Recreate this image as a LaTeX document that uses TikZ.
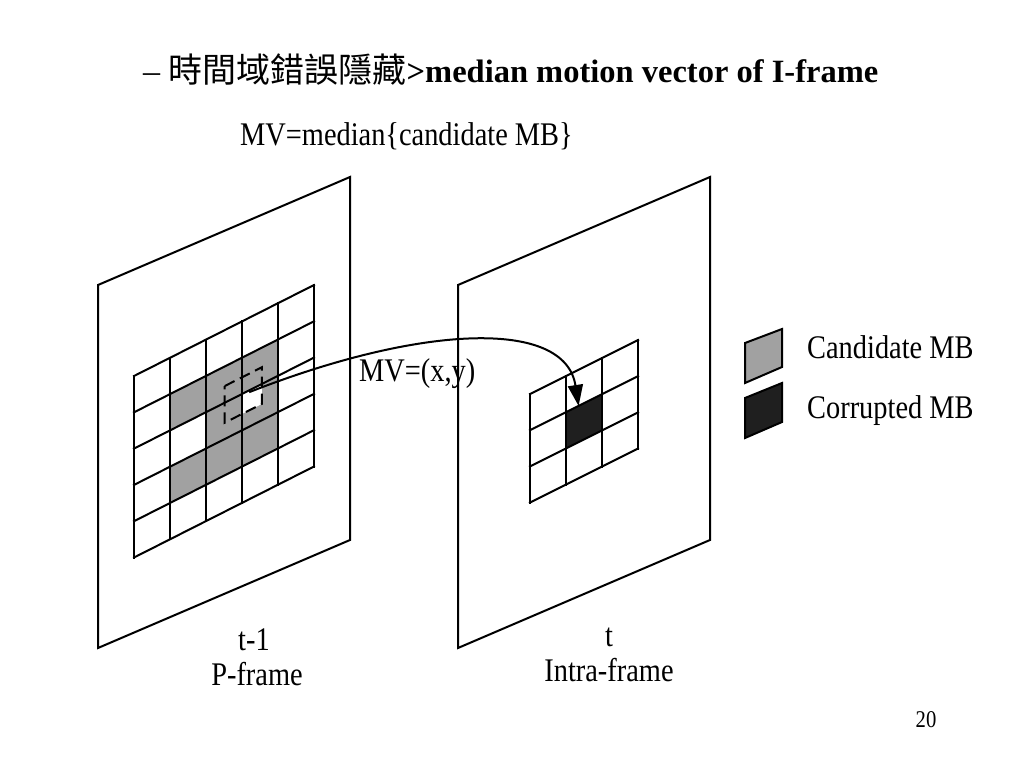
\documentclass[tikz,border=0pt]{standalone}
\usepackage{fontspec}
\setmainfont{Liberation Serif}
\newfontfamily\narrowserif[FakeStretch=0.86]{Liberation Serif}
\newfontfamily\cjkfont{Noto Sans CJK TC}
\usetikzlibrary{positioning,arrows.meta,calc}

\begin{document}
\begin{tikzpicture}[
    x=1pt, y=-1pt,
    % Frames, macroblocks and labels
    frame_plane/.style={draw=black, line width=2pt, fill=white},
    grid_line/.style={draw=black, line width=2pt, line cap=rect},
    candidate_mb/.style={fill=black!37},
    corrupted_mb/.style={fill=black!88},
    search_box/.style={draw=black, line width=2pt, dash pattern=on 11pt off 6pt},
    mv_arrow/.style={-{Triangle[length=21pt,width=15pt]}, line width=2pt},
    legend_box/.style={draw=black, line width=2pt},
    label_text/.style={font=\narrowserif\fontsize{33}{36}\selectfont, inner sep=0pt},
    title_text/.style={font=\fontsize{34}{40}\selectfont, inner sep=0pt}
]

% Page area
\fill[white] (0,0) rectangle (1024,768);
\useasboundingbox (0,0) rectangle (1024,768);

% Title and formula
\node[title_text, anchor=base west] (title) at (143,82)
    {–\ {\cjkfont 時間域錯誤隱藏}{\fontsize{32.5}{40}\selectfont\bfseries >median motion vector of I-frame}};
\node[label_text, anchor=base west] (formula) at (240,145) {MV=median\{candidate MB\}};

% Two frames in perspective
\draw[frame_plane] (98,285) -- (350,177) -- (350,540) -- (98,648) -- cycle;
\draw[frame_plane] (458,285) -- (710,177) -- (710,540) -- (458,648) -- cycle;

% Frame t-1: 5x5 macroblocks with candidates
\begin{scope}[shift={(134,376)}, x={(36pt,18.2pt)}, y={(0pt,-36.3pt)}]
    \foreach \c/\r in {1/1,1/3,2/1,2/2,2/3,3/1,3/2,3/3}
        \fill[candidate_mb] (\c,\r) -- ++(1,0) -- ++(0,1) -- ++(-1,0) -- cycle;
    \fill[white] (3,2) -- (3.55,2) -- (3.55,2.55) -- (3,2.55) -- cycle;
    \foreach \i in {0,...,5} {
        \draw[grid_line] (\i,0) -- (\i,5);
        \draw[grid_line] (0,\i) -- (5,\i);
    }
    % dashed search window
    \draw[search_box] (2.52,1.54) -- (3.55,1.54) -- (3.55,2.55) -- (2.52,2.55) -- cycle;
    \coordinate (mv_start) at (3.2,2.05);
\end{scope}

% Frame t: 3x3 macroblocks with the corrupted one
\begin{scope}[shift={(530,394)}, x={(36pt,18pt)}, y={(0pt,-36.2pt)}]
    \fill[corrupted_mb] (1,1) -- (2,1) -- (2,2) -- (1,2) -- cycle;
    \foreach \i in {0,...,3} {
        \draw[grid_line] (\i,0) -- (\i,3);
        \draw[grid_line] (0,\i) -- (3,\i);
    }
    \coordinate (mv_end) at (1.35,1);
\end{scope}

% Motion vector
\draw[mv_arrow] (mv_start) .. controls (420,325) and (565,318) .. (mv_end);
\node[label_text, anchor=base west] (mv_label) at (359,381) {MV=(x,y)};

% Legend
\draw[legend_box, candidate_mb] (745,343) -- (782,329) -- (782,367) -- (745,383) -- cycle;
\draw[legend_box, corrupted_mb] (745,398) -- (782,383) -- (782,422) -- (745,438) -- cycle;
\node[label_text, anchor=base west] (cand_label) at (807,358) {Candidate MB};
\node[label_text, anchor=base west] (corr_label) at (807,418) {Corrupted MB};

% Frame labels
\node[label_text, anchor=base] (prev_time) at (254,650) {t-1};
\node[label_text, anchor=base] (prev_type) at (257,685) {P-frame};
\node[label_text, anchor=base] (cur_time) at (609,646) {t};
\node[label_text, anchor=base] (cur_type) at (609,681) {Intra-frame};

% Page number
\node[font=\narrowserif\fontsize{24}{28}\selectfont, inner sep=0pt, anchor=base] (page_no) at (926,727) {20};

\end{tikzpicture}
\end{document}
